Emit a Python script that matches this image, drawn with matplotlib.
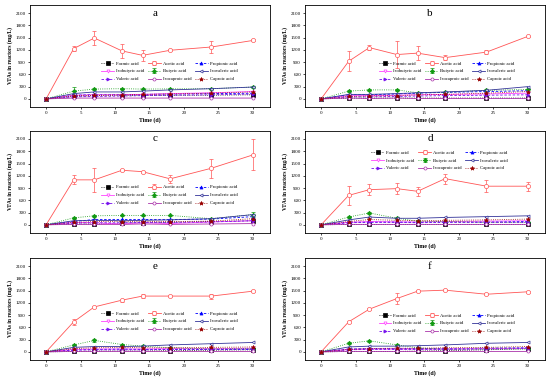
import matplotlib
matplotlib.use("Agg")
import matplotlib.pyplot as plt

plt.rcParams['font.family'] = ['Liberation Serif', 'DejaVu Serif']

days = [0, 4, 7, 11, 14, 18, 24, 30]
acids = ["Formic acid", "Acetic acid", "Propionic acid",
         "Isobutyric acid", "Butyric acid", "Isovaleric acid",
         "Valeric acid", "Isocaproic acid", "Caproic acid"]
panel_names = ["a", "b", "c", "d", "e", "f"]

# acetic acid (mg/L) and its error bars, one row per panel
acetic = [
    [0, 1230, 1490, 1175, 1065, 1190, 1270, 1430],
    [0, 920, 1255, 1085, 1120, 1010, 1145, 1530],
    [0, 1100, 1100, 1335, 1300, 1125, 1385, 1710],
    [0, 720, 860, 885, 820, 1130, 945, 945],
    [0, 735, 1100, 1265, 1365, 1365, 1365, 1485],
    [0, 735, 1045, 1305, 1485, 1510, 1410, 1470],
]
acetic_err = [
    [0, 60, 160, 170, 130, 20, 150, 25],
    [0, 240, 60, 330, 170, 60, 50, 20],
    [0, 110, 290, 20, 20, 90, 230, 380],
    [0, 235, 140, 130, 110, 120, 140, 110],
    [0, 80, 30, 40, 50, 20, 60, 20],
    [0, 20, 20, 140, 20, 20, 20, 30],
]
formic = [
    [0, 60, 80, 80, 80, 90, 90, 100],
    [0, 20, 20, 20, 20, 20, 20, 20],
    [0, 20, 20, 40, 50, 60, 80, 100],
    [0, 10, 10, 10, 10, 10, 10, 10],
    [0, 10, 20, 20, 20, 30, 40, 50],
    [0, 10, 10, 10, 20, 30, 50, 80],
]
propionic = [
    [0, 90, 110, 110, 110, 120, 130, 140],
    [0, 100, 100, 120, 140, 160, 180, 200],
    [0, 80, 130, 130, 130, 130, 140, 200],
    [0, 60, 70, 70, 60, 70, 70, 80],
    [0, 50, 60, 70, 60, 60, 60, 60],
    [0, 70, 80, 80, 80, 80, 90, 100],
]
isobutyric = [
    [0, 90, 100, 100, 110, 130, 150, 180],
    [0, 80, 80, 90, 100, 110, 120, 140],
    [0, 60, 50, 20, 50, 30, 70, 100],
    [0, 60, 80, 70, 70, 80, 90, 100],
    [0, 60, 70, 70, 70, 80, 80, 90],
    [0, 60, 70, 70, 70, 70, 80, 90],
]
butyric = [
    [0, 190, 240, 250, 240, 245, 250, 290],
    [0, 190, 220, 220, 150, 160, 210, 230],
    [0, 170, 220, 230, 230, 230, 150, 250],
    [0, 190, 290, 160, 90, 80, 60, 60],
    [0, 170, 280, 180, 140, 100, 70, 80],
    [0, 210, 270, 170, 100, 60, 70, 70],
]
butyric_err = [
    [0, 100, 20, 20, 20, 20, 20, 20],
    [0, 20, 20, 20, 20, 20, 40, 20],
    [0, 20, 20, 20, 20, 20, 20, 70],
    [0, 20, 30, 20, 20, 20, 20, 20],
    [0, 20, 30, 20, 20, 20, 20, 20],
    [0, 20, 20, 20, 20, 20, 20, 20],
]
isovaleric = [
    [0, 130, 170, 170, 190, 220, 250, 290],
    [0, 110, 110, 130, 150, 170, 210, 300],
    [0, 100, 110, 100, 110, 120, 150, 250],
    [0, 120, 190, 160, 160, 180, 200, 220],
    [0, 110, 130, 130, 140, 170, 200, 230],
    [0, 120, 140, 140, 150, 170, 210, 230],
]
valeric = [
    [0, 50, 60, 70, 80, 90, 100, 120],
    [0, 50, 50, 60, 70, 80, 90, 100],
    [0, 40, 50, 50, 60, 60, 70, 100],
    [0, 50, 60, 60, 50, 60, 60, 60],
    [0, 40, 50, 50, 50, 60, 60, 70],
    [0, 50, 60, 60, 60, 60, 70, 80],
]
isocaproic = [
    [0, 20, 20, 20, 20, 20, 20, 20],
    [0, 20, 10, 20, 10, 10, 10, 10],
    [0, 10, 10, 10, 20, 10, 20, 30],
    [0, 10, 10, 10, 10, 10, 10, 10],
    [0, 10, 10, 10, 10, 10, 10, 10],
    [0, 10, 10, 10, 10, 10, 10, 10],
]
caproic = [
    [0, 80, 90, 100, 110, 120, 140, 170],
    [0, 60, 70, 80, 100, 110, 140, 180],
    [0, 60, 80, 80, 80, 80, 90, 150],
    [0, 80, 130, 110, 100, 110, 120, 140],
    [0, 80, 100, 110, 100, 100, 110, 120],
    [0, 60, 80, 90, 90, 100, 110, 130],
]

# (colour, linestyle, marker, filled)
styles = {
    "Formic acid": ("black", ":", "s", True),
    "Acetic acid": ("#ff5555", "-", "o", False),
    "Propionic acid": ("#0000ff", (0, (3, 2)), "^", True),
    "Isobutyric acid": ("#ff44ff", "-", "v", False),
    "Butyric acid": ("#119911", ":", "D", True),
    "Isovaleric acid": ("#333399", "-", "<", False),
    "Valeric acid": ("#7711ee", (0, (3, 2)), ">", True),
    "Isocaproic acid": ("#aa33aa", "-", "o", False),
    "Caproic acid": ("#990000", ":", "*", True),
}

legend_pos = [(0.58, 0.35), (0.59, 0.35), (0.58, 0.37),
              (0.56, 0.71), (0.58, 0.38), (0.59, 0.36)]

fig = plt.figure(figsize=(5.5, 3.77), dpi=100)
lefts = [0.055, 0.555]
bottoms = [0.716, 0.382, 0.045]
w, h = 0.436, 0.271

for i, name in enumerate(panel_names):
    row, col = i // 2, i % 2
    ax = fig.add_axes([lefts[col], bottoms[row], w, h])
    series = {
        "Formic acid": (formic[i], None),
        "Acetic acid": (acetic[i], acetic_err[i]),
        "Propionic acid": (propionic[i], None),
        "Isobutyric acid": (isobutyric[i], None),
        "Butyric acid": (butyric[i], butyric_err[i]),
        "Isovaleric acid": (isovaleric[i], None),
        "Valeric acid": (valeric[i], None),
        "Isocaproic acid": (isocaproic[i], None),
        "Caproic acid": (caproic[i], None),
    }
    handles = {}
    for acid in acids:
        vals, err = series[acid]
        c, ls, mk, filled = styles[acid]
        ms = 2.2
        if mk == "*":
            ms = 3.0
        if acid == "Acetic acid":
            ms = 3.0
        cont = ax.errorbar(days, vals, yerr=err, color=c, ls=ls, lw=0.6,
                           marker=mk, ms=ms, mew=0.5,
                           mfc=c if filled else "white", mec=c,
                           elinewidth=0.5, capsize=1.5, capthick=0.5,
                           label=acid)
        handles[acid] = cont
    # legend rows: fill column-wise so it reads row-wise
    order = [0, 3, 6, 1, 4, 7, 2, 5, 8]
    hs = [handles[acids[k]] for k in order]
    ls_ = [acids[k] for k in order]
    ax.legend(hs, ls_, ncol=3, loc="center", bbox_to_anchor=legend_pos[i],
              fontsize=3.4, frameon=False, handlelength=2.7,
              columnspacing=0.8, labelspacing=0.75, handletextpad=0.4,
              borderpad=0.2)
    ax.set_xlim(-2.3, 32.5)
    ax.set_ylim(-200, 2300)
    ax.set_xticks(range(0, 31, 5))
    ax.set_yticks(range(0, 2101, 300))
    ax.tick_params(labelsize=3.6, length=1.5, width=0.5, pad=1.5)
    for sp in ax.spines.values():
        sp.set_linewidth(0.6)
    ax.set_xlabel("Time (d)", fontsize=4.2, labelpad=1.5, fontweight="bold")
    ax.set_ylabel("VFAs in reactors (mg/L)", fontsize=4.0, labelpad=2,
                  fontweight="bold")
    ax.text(0.52, 0.92, name, transform=ax.transAxes, fontsize=8,
            ha="center", va="center")

fig.savefig("out.png", dpi=100)
